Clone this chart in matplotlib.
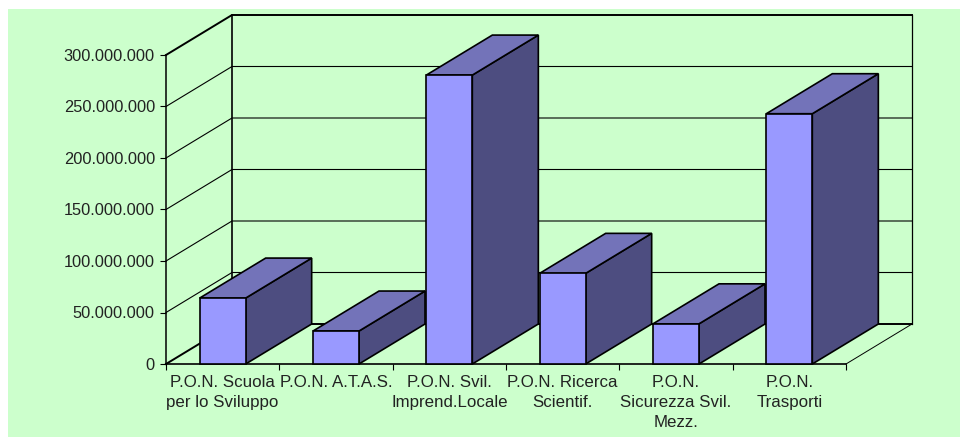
import matplotlib
matplotlib.use('Agg')
import matplotlib.pyplot as plt
from matplotlib.patches import Polygon, Rectangle

plt.rcParams['font.family'] = ['Liberation Sans', 'DejaVu Sans']

categories = ['P.O.N. Scuola\nper lo Sviluppo', 'P.O.N. A.T.A.S.', 'P.O.N. Svil.\nImprend.Locale',
              'P.O.N. Ricerca\nScientif.', 'P.O.N.\nSicurezza Svil.\nMezz.', 'P.O.N.\nTrasporti']
values = [64000000, 32000000, 280500000, 88000000, 39000000, 243000000]
y_ticks = [0, 50000000, 100000000, 150000000, 200000000, 250000000, 300000000]

W, H = 960, 437
BG = '#CCFFCC'
FRONT = '#9999FF'
TOP = '#7373B9'
SIDE = '#4D4D80'

# depth of the 3d box, in axis units
DX = 66 / (680 / 6)
DY = 40 / 309 * 300000000
BAR_W = 46 / (680 / 6)

fig = plt.figure(figsize=(W / 100, H / 100), dpi=100, facecolor='white')
fig.patches.append(Rectangle((8 / W, 0), (W - 8) / W, (H - 9) / H, transform=fig.transFigure,
                             facecolor=BG, edgecolor='none', figure=fig, zorder=-1))

ax = fig.add_axes([166 / W, (H - 364) / H, 680 / W, 309 / H])
ax.patch.set_visible(False)
ax.set_xlim(0, 6)
ax.set_ylim(0, 300000000)
for s in ax.spines.values():
    s.set_visible(False)


def line(xs, ys, lw=0.8, z=1):
    ax.plot(xs, ys, color='black', lw=lw, clip_on=False, zorder=z, solid_capstyle='projecting')


# gridlines on the left wall and the back wall
for v in y_ticks:
    lw = 1.4 if v in (0, 300000000) else 0.8
    line([0, DX, 6 + DX], [v, v + DY, v + DY], lw=lw)

# wall edges
line([0, 0], [0, 300000000], lw=1.1)
line([DX, DX], [DY, 300000000 + DY], lw=1.2)
line([6 + DX, 6 + DX], [DY, 300000000 + DY], lw=0.9)
line([0, 6], [0, 0], lw=1.2, z=2)
line([6, 6 + DX], [0, DY], lw=0.7)

# bars: front, top and side faces
for i, v in enumerate(values):
    x0 = i + 0.5 - BAR_W / 2
    x1 = x0 + BAR_W
    z = 3 + i
    edge = dict(edgecolor='black', lw=1.2, clip_on=False, zorder=z, joinstyle='miter')
    ax.add_patch(Polygon([(x1, 0), (x1 + DX, DY), (x1 + DX, v + DY), (x1, v)], facecolor=SIDE, **edge))
    ax.add_patch(Polygon([(x0, v), (x1, v), (x1 + DX, v + DY), (x0 + DX, v + DY)], facecolor=TOP, **edge))
    ax.add_patch(Polygon([(x0, 0), (x1, 0), (x1, v), (x0, v)], facecolor=FRONT, **edge))

ax.set_yticks(y_ticks)
ax.set_yticklabels([f'{v:,}'.replace(',', '.') for v in y_ticks], fontsize=11.8, color='#222222')
ax.tick_params(axis='y', length=4.5, width=0.8, pad=3.5)

# ticks sit on the category boundaries, labels in the middle
ax.set_xticks(range(7))
ax.set_xticklabels([])
ax.tick_params(axis='x', length=4, width=0.8)
for i, c in enumerate(categories):
    ax.annotate(c, xy=(i + 0.5, 0), xycoords='data', xytext=(0, -8), textcoords='offset points',
                ha='center', va='top', fontsize=12.2, color='#222222', linespacing=1.42,
                annotation_clip=False)

fig.savefig('out.png', dpi=100, facecolor='white')
